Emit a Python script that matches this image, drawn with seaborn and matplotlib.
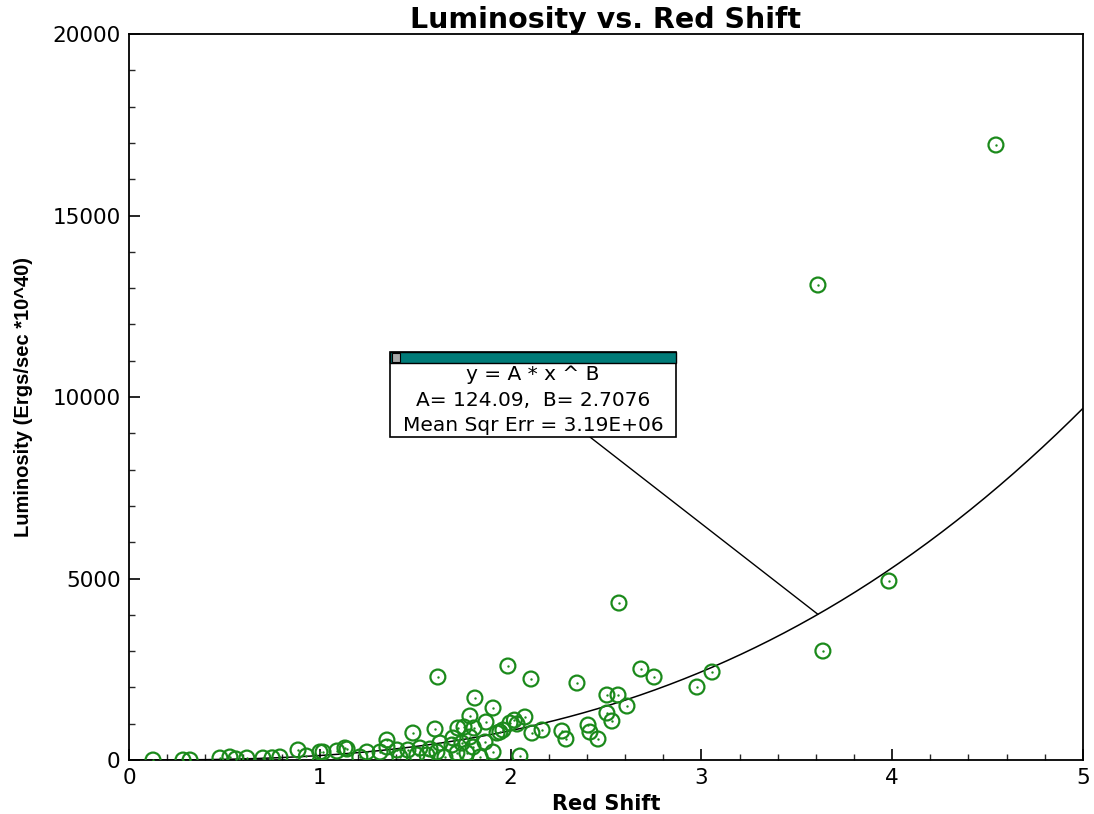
import numpy as np
import pandas as pd
import seaborn as sns
import matplotlib
matplotlib.use("Agg")
import matplotlib.pyplot as plt
from matplotlib.patches import Rectangle
from matplotlib.ticker import MultipleLocator

# Observed quasar sample: red shift z and luminosity (ergs/sec * 10^40)
red_shift = [
    4.544, 3.611, 3.983, 3.637, 2.568, 3.056, 2.977, 2.683, 2.752, 2.348,
    1.986, 2.107, 1.619, 1.813, 1.908, 2.505, 2.563, 2.610, 2.505, 2.531,
    2.406, 2.416, 2.458, 2.269, 2.290, 2.165, 2.112, 2.075, 2.034, 1.997,
    1.960, 1.929, 1.908, 2.049, 1.787, 1.871, 1.808, 1.724, 1.604, 1.488,
    1.698, 1.352, 1.352, 1.316, 1.247, 1.143, 1.090, 1.017, 1.405, 1.462,
    1.525, 1.578, 1.630, 1.693, 1.745, 1.787, 1.803, 1.771, 1.719, 1.614,
    1.562, 1.509, 1.756, 1.132, 1.001, 0.886, 0.791, 0.702, 0.618, 0.529,
    0.477, 0.283, 0.320, 0.126, 1.866, 1.420, 1.656, 1.840, 1.210, 0.930,
    0.560, 0.750, 1.944, 2.020,
]
luminosity = [
    16943, 13086, 4931, 3003, 4325, 2424, 2011, 2507, 2287, 2121,
    2590, 2232, 2287, 1708, 1433, 1791, 1791, 1488, 1295, 1074,
    964, 771, 579, 799, 579, 827, 744, 1185, 992, 1019,
    827, 744, 220, 110, 1212, 1047, 882, 882, 854, 744,
    606, 551, 358, 220, 220, 303, 248, 220, 276, 276,
    331, 303, 468, 413, 468, 634, 358, 193, 193, 220,
    138, 138, 909, 331, 220, 276, 83, 55, 55, 83,
    55, 0, 0, 0, 496, 83, 83, 83, 83, 110,
    30, 60, 771, 1100,
]

# Power-law fit y = A * x ^ B
fit_a = 124.09
fit_b = 2.7076
fit_mse = "3.19E+06"

df = pd.DataFrame({"z": red_shift, "lum": luminosity})
curve_x = np.linspace(0, 5, 400)
curve = pd.DataFrame({"z": curve_x, "lum": fit_a * curve_x ** fit_b})

sns.set_theme(style="white")
plt.rcParams["font.family"] = ["DejaVu Sans"]
plt.rcParams["text.color"] = "black"
plt.rcParams["axes.labelcolor"] = "black"

fig = plt.figure(figsize=(10.94, 8.14), dpi=100)
ax = fig.add_axes([0.1179, 0.0663, 0.872, 0.8919])

green = "#1b8a1b"
sns.lineplot(data=curve, x="z", y="lum", ax=ax, color="black", lw=1.1, zorder=2)
sns.scatterplot(data=df, x="z", y="lum", ax=ax, marker="o", s=115,
                facecolors="none", edgecolor=green, linewidth=1.6, zorder=3)
sns.scatterplot(data=df, x="z", y="lum", ax=ax, marker="o", s=3,
                color=green, edgecolor=green, linewidth=0, zorder=3)

ax.set_xlim(0, 5)
ax.set_ylim(0, 20000)
ax.xaxis.set_major_locator(MultipleLocator(1))
ax.xaxis.set_minor_locator(MultipleLocator(0.2))
ax.yaxis.set_major_locator(MultipleLocator(5000))
ax.yaxis.set_minor_locator(MultipleLocator(1000))
ax.tick_params(which="major", direction="in", length=8, width=1.2,
               labelsize=15.5, colors="black", pad=6)
ax.tick_params(which="minor", direction="in", length=4, width=1.0)
ax.tick_params(top=False, right=False, which="both", bottom=True, left=True)
for sp in ax.spines.values():
    sp.set_color("black")
    sp.set_linewidth(1.3)

ax.set_title("Luminosity vs. Red Shift", fontsize=20.5, fontweight="bold",
             pad=0, color="black")
ax.set_xlabel("Red Shift", fontsize=15, fontweight="bold", labelpad=4)
ax.set_ylabel("Luminosity (Ergs/sec *10^40)", fontsize=14.5, fontweight="bold",
              family=["Liberation Sans", "DejaVu Sans"], labelpad=14)

# Fit annotation box with a leader line to the curve
bx0, bx1 = 1.368, 2.867
by0, by1 = 8899, 11240
bar_h = 303
leader_z = 3.611
ax.plot([2.416, leader_z], [by0, fit_a * leader_z ** fit_b], color="black",
        lw=1.0, zorder=4)
ax.add_patch(Rectangle((bx0, by0), bx1 - bx0, by1 - by0, facecolor="white",
                       edgecolor="black", lw=1.2, zorder=5))
ax.add_patch(Rectangle((bx0, by1 - bar_h), bx1 - bx0, bar_h, facecolor="#007b78",
                       edgecolor="black", lw=1.0, zorder=6))
ax.add_patch(Rectangle((bx0 + 0.01, by1 - bar_h + 30), 0.045, bar_h - 60,
                       facecolor="#a8a8a8", edgecolor="black", lw=0.8, zorder=7))
cx = (bx0 + bx1) / 2
lines = ["y = A * x ^ B",
         f"A= {fit_a:.2f},  B= {fit_b:.4f}",
         f"Mean Sqr Err = {fit_mse}"]
for text, yy in zip(lines, [10607, 9918, 9229]):
    ax.text(cx, yy, text, ha="center", va="center", fontsize=14.5,
            color="black", zorder=8)

fig.savefig("out.png", dpi=100)
